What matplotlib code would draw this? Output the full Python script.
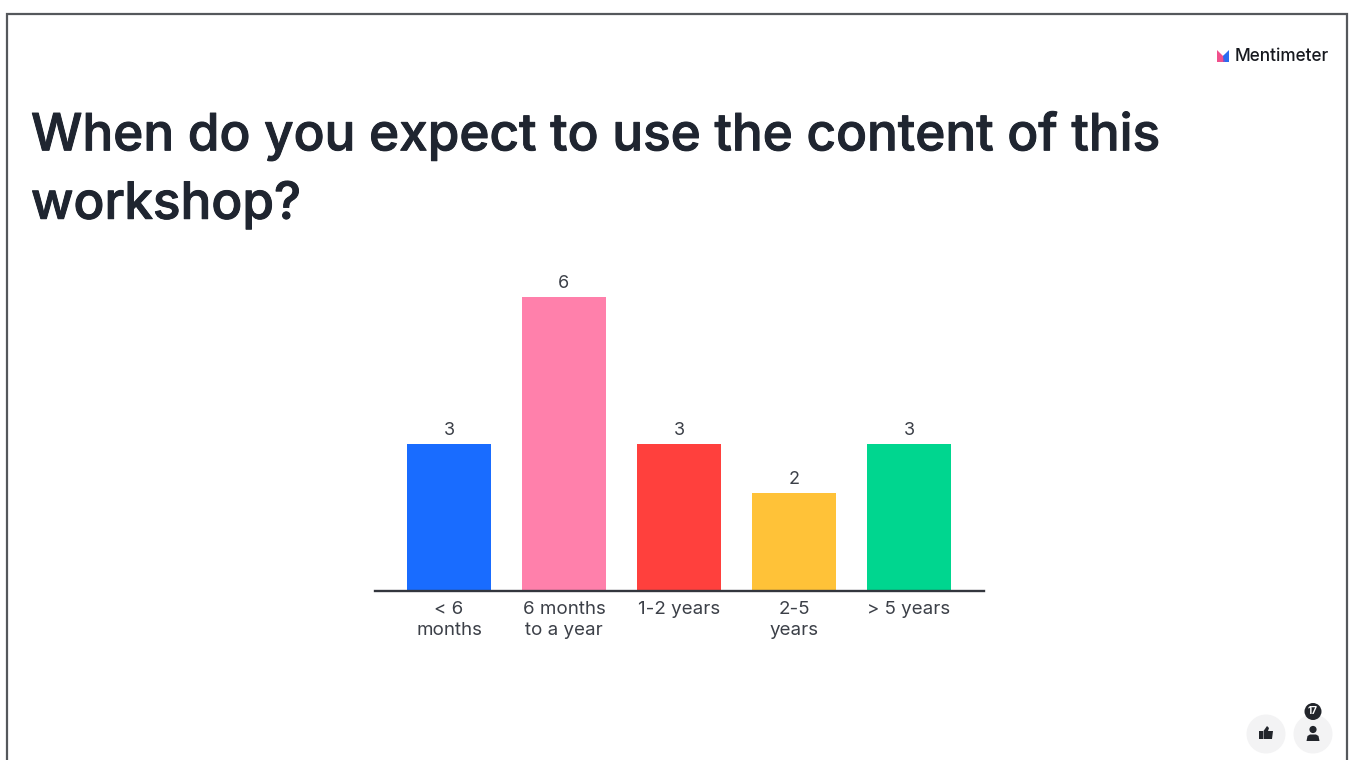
import matplotlib
matplotlib.use("Agg")
import matplotlib.pyplot as plt
import matplotlib.patheffects as pe
from matplotlib.patches import Circle, Rectangle, Polygon

plt.rcParams['font.family'] = ['Inter', 'DejaVu Sans']

categories = ["< 6\nmonths", "6 months\nto a year", "1-2 years", "2-5\nyears", "> 5 years"]
votes = [3, 6, 3, 2, 3]
bar_colors = ["#196cff", "#ff80ab", "#ff403d", "#ffc238", "#00d68f"]
title_lines = ["When do you expect to use the content of this", "workshop?"]
participants = "17"

ink = "#1f2530"
grey = "#3c4048"

fig = plt.figure(figsize=(13.55, 7.6), dpi=100, facecolor="white")

# page layer in pixel coordinates
page = fig.add_axes([0, 0, 1, 1])
page.set_xlim(0, 1355)
page.set_ylim(760, 0)
page.axis("off")

# slide frame, runs off the bottom edge
page.plot([7, 7, 1347, 1347], [770, 14, 14, 770], color="#55585c", lw=1.6,
          solid_joinstyle="miter")

# title, thickened a little since the medium weight comes out thin
heavier = [pe.withStroke(linewidth=0.7, foreground=ink)]
page.text(31, 136, title_lines[0], fontsize=36.9, fontweight="medium", color=ink,
          va="center", ha="left", path_effects=heavier)
page.text(31, 205, title_lines[1], fontsize=36.9, fontweight="medium", color=ink,
          va="center", ha="left", path_effects=heavier)

# logo mark
page.add_patch(Polygon([(1217, 50), (1223, 56), (1223, 62), (1217, 62)], color="#f0508c", lw=0))
page.add_patch(Polygon([(1223, 56), (1223, 62), (1227, 62), (1227, 53)], color="#8a4fc0", lw=0))
page.add_patch(Polygon([(1223, 56), (1229, 50), (1229, 62), (1225, 62)], color="#2a6cf0", lw=0))
page.text(1235, 56.5, "Mentimeter", fontsize=12.4, fontweight="medium", color="#17191f",
          va="center", ha="left")

# reaction and participant buttons
page.add_patch(Circle((1266, 734), 19.5, color="#f3f3f4", lw=0))
page.add_patch(Circle((1313, 734), 19.5, color="#f3f3f4", lw=0))
page.add_patch(Rectangle((1259, 731), 3.5, 8, color="#22252b", lw=0))
page.add_patch(Polygon([(1263.5, 731), (1267, 726), (1269, 728), (1268, 731), (1273, 731),
                        (1272, 739), (1263.5, 739)], color="#22252b", lw=0))
page.add_patch(Circle((1313, 729.5), 3.6, color="#22252b", lw=0))
page.add_patch(Polygon([(1306.5, 741), (1307.5, 736), (1310, 734.5), (1316, 734.5),
                        (1318.5, 736), (1319.5, 741)], color="#22252b", lw=0))
page.add_patch(Circle((1313, 711.5), 8.5, color="#22252b", lw=0))
page.text(1313, 711.5, participants, fontsize=7, fontweight="bold", color="white",
          ha="center", va="center")

# bar chart, one unit is 49 px high and one slot 115 px wide
ax = fig.add_axes([375 / 1355, 1 - 591 / 760, 609 / 1355, 321 / 760])
ax.patch.set_alpha(0)
positions = list(range(len(votes)))
ax.bar(positions, votes, width=0.725, color=bar_colors)
ax.set_xlim(-0.643, 4.652)
ax.set_ylim(0, 321 / 49)
for side in ["top", "left", "right"]:
    ax.spines[side].set_visible(False)
ax.spines["bottom"].set_color("#33363d")
ax.spines["bottom"].set_linewidth(1.7)
ax.set_yticks([])
ax.set_xticks(positions)
ax.set_xticklabels(categories, fontsize=13.5, color=grey, linespacing=1.32)
ax.tick_params(axis="x", length=0, pad=7)
for pos, v in zip(positions, votes):
    ax.annotate(str(v), (pos, v), xytext=(0, 3.5), textcoords="offset points",
                ha="center", va="bottom", fontsize=13, color=grey)

fig.savefig("out.png", dpi=100)
